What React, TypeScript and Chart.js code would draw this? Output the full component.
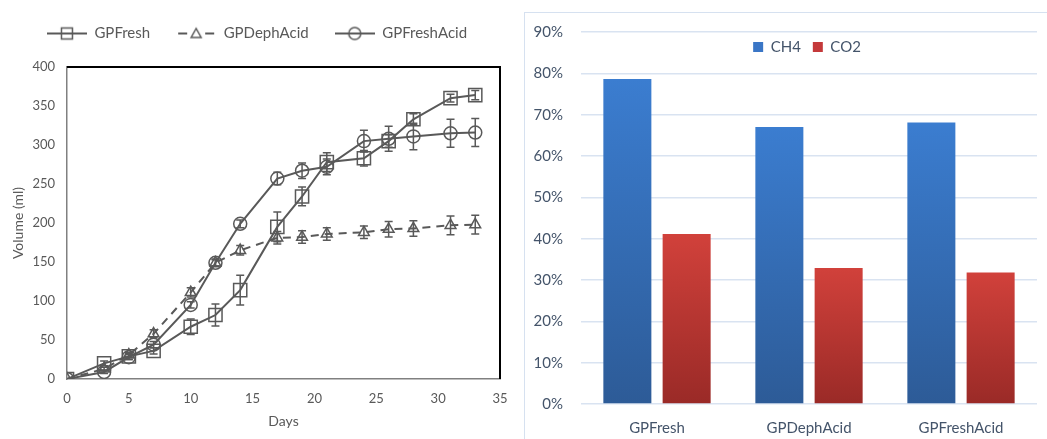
import React, { useEffect, useRef } from "react";
import { Chart, registerables } from "chart.js";
Chart.register(...registerables);

// ---------- Left chart data ----------
const days = [0, 3, 5, 7, 10, 12, 14, 17, 19, 21, 24, 26, 28, 31, 33];
const gpFresh = [0, 20, 29, 36, 67, 82, 114, 195, 234, 278, 283, 305, 333, 360, 364];
const gpFreshErr = [0, 3, 4, 4, 10, 14, 19, 19, 12, 12, 10, 8, 7, 5, 6];
const gpDeph = [0, 13, 31, 58, 111, 149, 165, 181, 182, 186, 188, 192, 193, 197, 198];
const gpDephErr = [0, 2, 3, 5, 6, 4, 6, 8, 8, 8, 8, 10, 10, 12, 12];
const gpFreshAcid = [0, 9, 28, 44, 95, 149, 199, 257, 267, 272, 305, 308, 311, 315, 316];
const gpFreshAcidErr = [0, 2, 3, 4, 4, 5, 5, 8, 10, 10, 14, 16, 17, 18, 18];
const lineSeriesNames = ["GPFresh", "GPDephAcid", "GPFreshAcid"];

// ---------- Right chart data ----------
const barCategories = ["GPFresh", "GPDephAcid", "GPFreshAcid"];
const ch4Values = [78.6, 67.0, 68.1];
const co2Values = [41.1, 32.9, 31.8];
const barSeriesNames = ["CH4", "CO2"];

const FONT = "Lato, 'Open Sans', sans-serif";
const GREY = "#595959";
const SLATE = "#44546a";

function makeLegendSymbol(kind: string, dashed: boolean) {
  const c = document.createElement("canvas");
  c.width = 40;
  c.height = 16;
  const g = c.getContext("2d")!;
  g.strokeStyle = GREY;
  g.lineWidth = 2;
  g.beginPath();
  if (dashed) {
    g.moveTo(2, 8); g.lineTo(11, 8);
    g.moveTo(29, 8); g.lineTo(38, 8);
  } else {
    g.moveTo(0, 8); g.lineTo(40, 8);
  }
  g.stroke();
  g.lineWidth = 1.5;
  g.beginPath();
  if (kind === "rect") {
    g.rect(14.5, 2.5, 11, 11);
  } else if (kind === "circle") {
    g.arc(20, 8, 6, 0, Math.PI * 2);
  } else {
    g.moveTo(20, 3); g.lineTo(25, 12); g.lineTo(15, 12); g.closePath();
  }
  g.stroke();
  return c;
}

// Adjusts the legend box height and shifts its drawing (options: height, offsetX, offsetY)
const legendTweakPlugin = {
  id: "legendTweak",
  beforeLayout(chart: any, _a: any, opts: any) {
    const lg = chart.legend;
    if (!lg || lg.__tweaked) return;
    lg.__tweaked = true;
    const h = opts.height, ox = opts.offsetX || 0, oy = opts.offsetY || 0;
    const fit = lg.fit.bind(lg);
    lg.fit = function () {
      fit();
      if (h != null) this.height = h;
    };
    const draw = lg.draw.bind(lg);
    lg.draw = function (...args: any[]) {
      const c = this.ctx;
      const b = this.bottom;
      this.bottom = this.top + 80;
      c.save();
      c.translate(ox, oy);
      draw(...args);
      c.restore();
      this.bottom = b;
    };
  },
};

const errorBarPlugin = {
  id: "errorBars",
  afterDatasetsDraw(chart: any, _args: any, opts: any) {
    const { ctx } = chart;
    const xs = chart.scales.x, ys = chart.scales.y;
    const errs: number[][] = opts.errors || [];
    chart.data.datasets.forEach((ds: any, di: number) => {
      const e = errs[di];
      if (!e) return;
      ctx.save();
      ctx.strokeStyle = GREY;
      ctx.lineWidth = 1.5;
      ctx.setLineDash([]);
      ds.data.forEach((pt: any, i: number) => {
        const v = e[i];
        if (!v) return;
        const px = xs.getPixelForValue(pt.x);
        const yt = ys.getPixelForValue(pt.y + v);
        const yb = ys.getPixelForValue(pt.y - v);
        ctx.beginPath();
        ctx.moveTo(px, yt); ctx.lineTo(px, yb);
        ctx.moveTo(px - 4, yt); ctx.lineTo(px + 4, yt);
        ctx.moveTo(px - 4, yb); ctx.lineTo(px + 4, yb);
        ctx.stroke();
      });
      ctx.restore();
    });
  },
};

const plotFramePlugin = {
  id: "plotFrame",
  beforeDatasetsDraw(chart: any) {
    const { ctx, chartArea } = chart;
    const { left, top, right, bottom } = chartArea;
    ctx.save();
    ctx.strokeStyle = "#000";
    ctx.lineWidth = 2;
    ctx.beginPath();
    ctx.moveTo(left, top);
    ctx.lineTo(right, top);
    ctx.lineTo(right, bottom);
    ctx.stroke();
    ctx.restore();
  },
};

function barGradient(topC: string, botC: string) {
  return (c: any) => {
    const chart = c.chart;
    const ca = chart.chartArea;
    if (!ca || c.type !== "data" || !chart.scales.y) return topC;
    const ys = chart.scales.y;
    const y0 = ys.getPixelForValue(c.raw);
    const y1 = ys.getPixelForValue(0);
    if (!isFinite(y0) || !isFinite(y1) || y0 === y1) return topC;
    const g = chart.ctx.createLinearGradient(0, y0, 0, y1);
    g.addColorStop(0, topC);
    g.addColorStop(1, botC);
    return g;
  };
}

function LineChart() {
  const ref = useRef<HTMLCanvasElement>(null);
  useEffect(() => {
    const symbols = [
      makeLegendSymbol("rect", false),
      makeLegendSymbol("triangle", true),
      makeLegendSymbol("circle", false),
    ];
    const series = [gpFresh, gpDeph, gpFreshAcid];
    const styles = ["rect", "triangle", "circle"];
    const radii = [9.3, 6.2, 6.5];
    const chart = new Chart(ref.current!, {
      type: "line",
      data: {
        datasets: series.map((s, si) => ({
          label: lineSeriesNames[si],
          data: days.map((d, i) => ({ x: d, y: s[i] })),
          borderColor: GREY,
          borderWidth: 2,
          borderDash: si === 1 ? [8, 6] : [],
          pointStyle: styles[si] as any,
          pointRadius: radii[si],
          pointBorderWidth: 1.5,
          pointBorderColor: GREY,
          pointBackgroundColor: "rgba(0,0,0,0)",
          fill: false,
          tension: 0,
        })),
      },
      options: {
        responsive: false,
        animation: false,
        layout: { padding: { top: 0, right: 20, bottom: 0, left: 0 } },
        plugins: {
          tooltip: { enabled: false },
          legend: {
            position: "top",
            labels: {
              usePointStyle: true,
              pointStyleWidth: 40,
              boxHeight: 15,
              padding: 26,
              color: GREY,
              font: { family: FONT, size: 15 },
              generateLabels: () =>
                lineSeriesNames.map((n, i) => ({
                  text: n,
                  pointStyle: symbols[i] as any,
                  datasetIndex: i,
                  fillStyle: "rgba(0,0,0,0)",
                  strokeStyle: "rgba(0,0,0,0)",
                  lineWidth: 0,
                  hidden: false,
                  fontColor: GREY,
                })),
            },
          },
          legendTweak: { height: 67, offsetX: 7, offsetY: 0 },
          errorBars: { errors: [gpFreshErr, gpDephErr, gpFreshAcidErr] },
        } as any,
        scales: {
          x: {
            type: "linear",
            min: 0,
            max: 35,
            ticks: { stepSize: 5, color: GREY, padding: 12, font: { family: FONT, size: 13 } },
            grid: { display: false, drawTicks: false },
            border: { display: true, color: "#808080", width: 1.5 },
            title: { display: true, text: "Days", color: GREY, font: { family: FONT, size: 14 }, padding: { top: 0, bottom: 9 } },
            afterFit: (s: any) => { s.height = 60; },
          },
          y: {
            type: "linear",
            min: 0,
            max: 400,
            ticks: { stepSize: 50, color: GREY, padding: 12, font: { family: FONT, size: 13 } },
            grid: { display: false, drawTicks: false },
            border: { display: true, color: "#808080", width: 1.5 },
            title: { display: true, text: "Volume (ml)", color: GREY, font: { family: FONT, size: 14 }, padding: { top: 10, bottom: 0 } },
            afterFit: (s: any) => { s.width = 67; },
          },
        },
      },
      plugins: [legendTweakPlugin, plotFramePlugin, errorBarPlugin],
    });
    return () => chart.destroy();
  }, []);
  return <canvas ref={ref} width={520} height={439} style={{ position: "absolute", left: 0, top: 0 }} />;
}

function BarChart() {
  const ref = useRef<HTMLCanvasElement>(null);
  useEffect(() => {
    const legendColors = ["#3a76c6", "#c4393a"];
    const chart = new Chart(ref.current!, {
      type: "bar",
      data: {
        labels: barCategories,
        datasets: [
          {
            label: barSeriesNames[0],
            data: ch4Values,
            backgroundColor: barGradient("#3b7dd0", "#2d5b97"),
            borderWidth: 0,
            categoryPercentage: 0.78,
            barPercentage: 0.81,
          },
          {
            label: barSeriesNames[1],
            data: co2Values,
            backgroundColor: barGradient("#d1413b", "#9a2a27"),
            borderWidth: 0,
            categoryPercentage: 0.78,
            barPercentage: 0.81,
          },
        ],
      },
      options: {
        responsive: false,
        animation: false,
        layout: { padding: { top: 0, right: 10, bottom: 0, left: 0 } },
        plugins: {
          tooltip: { enabled: false },
          legend: {
            position: "top",
            labels: {
              boxWidth: 10,
              boxHeight: 10,
              padding: 12,
              color: SLATE,
              font: { family: FONT, size: 15 },
              generateLabels: () =>
                barSeriesNames.map((n, i) => ({
                  text: n,
                  fillStyle: legendColors[i],
                  strokeStyle: legendColors[i],
                  lineWidth: 0,
                  datasetIndex: i,
                  hidden: false,
                  fontColor: SLATE,
                })),
            },
          },
          legendTweak: { height: 19, offsetX: 26, offsetY: 14.5 },
        } as any,
        scales: {
          x: {
            ticks: { color: SLATE, padding: 15, font: { family: FONT, size: 15 } },
            grid: { display: false, drawTicks: false },
            border: { display: false },
            afterFit: (s: any) => { s.height = 35; },
          },
          y: {
            min: 0,
            max: 90,
            ticks: {
              stepSize: 10,
              color: SLATE,
              padding: 18,
              font: { family: FONT, size: 15 },
              callback: (v: any) => v + "%",
            },
            grid: { color: "#d9e3f1", lineWidth: 1.5, drawTicks: false },
            border: { display: false },
            afterFit: (s: any) => { s.width = 56; s.paddingTop = 0; },
          },
        },
      },
      plugins: [legendTweakPlugin],
    });
    return () => chart.destroy();
  }, []);
  return <canvas ref={ref} width={522} height={426} style={{ position: "absolute", left: 0, top: 0 }} />;
}

export default function App() {
  return (
    <div style={{ position: "absolute", left: 0, top: 0, width: 1047, height: 439, background: "#fff", overflow: "hidden" }}>
      <LineChart />
      <div
        style={{
          position: "absolute",
          left: 524,
          top: 12,
          width: 530,
          height: 440,
          border: "1px solid #d6e1f0",
          boxSizing: "border-box",
        }}
      >
        <BarChart />
      </div>
    </div>
  );
}
